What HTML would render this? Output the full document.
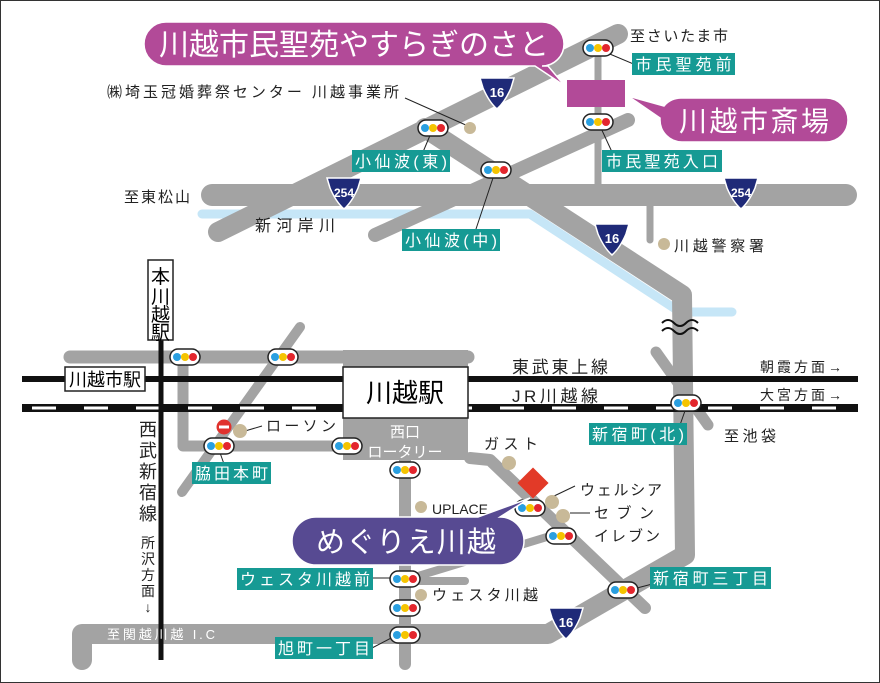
<!DOCTYPE html>
<html><head><meta charset="utf-8"><style>
html,body{margin:0;padding:0;background:#fff}
svg{display:block}
text{font-family:"Liberation Sans","Noto Sans CJK JP",sans-serif}
</style></head><body>
<svg width="880" height="683" viewBox="0 0 880 683" xmlns="http://www.w3.org/2000/svg">
<defs>
<g id="sig"><rect x="-15" y="-8" width="30" height="16" rx="8" fill="#fff" stroke="#222" stroke-width="1.5"/><circle cx="-8" cy="0" r="4" fill="#2a9fe0"/><circle cx="0" cy="0" r="4" fill="#f5c400"/><circle cx="8" cy="0" r="4" fill="#e3262d"/></g>
<g id="sh"><path d="M-17,-14 L17,-14 L14,-4 Q8,10 0,17 Q-8,10 -14,-4 Z" fill="#1f2a78" stroke="#fff" stroke-width="1.5"/></g>
</defs>
<rect x="0.5" y="0.5" width="879" height="682" fill="#fff" stroke="#333" stroke-width="1"/>
<polyline points="202,214 530,214 680,312 732,312" fill="none" stroke="#c6e6f7" stroke-width="9" stroke-linecap="round" stroke-linejoin="round"/>
<g fill="none" stroke="#a3a3a3" stroke-linecap="round" stroke-linejoin="round">
<line x1="618" y1="34" x2="218" y2="232" stroke-width="20"/>
<line x1="628" y1="120" x2="375" y2="235" stroke-width="14"/>
<line x1="598" y1="40" x2="598" y2="190" stroke-width="7"/>
<line x1="650" y1="195" x2="650" y2="240" stroke-width="7"/>
<polyline points="425,128 682,295 685,555 548,634 82,634 82,660" stroke-width="20"/>
<line x1="212" y1="195" x2="846" y2="195" stroke-width="22"/>
<polyline points="70,357 468,357" stroke-width="13"/>
<polyline points="183,357 183,446 345,446" stroke-width="11"/>
<line x1="300" y1="327" x2="182" y2="492" stroke-width="10"/>
<polyline points="470,458 490,460 645,608" stroke-width="12"/>
<line x1="405" y1="460" x2="405" y2="664" stroke-width="12"/>
<line x1="405" y1="580" x2="560" y2="533" stroke-width="8"/>
<line x1="405" y1="581" x2="465" y2="581" stroke-width="8"/>
<line x1="656" y1="352" x2="708" y2="425" stroke-width="11"/>
</g>
<rect x="343" y="350" width="125" height="110" fill="#a3a3a3"/>
<line x1="22" y1="379" x2="858" y2="379" stroke="#111" stroke-width="6"/>
<line x1="22" y1="408" x2="858" y2="408" stroke="#111" stroke-width="8"/>
<line x1="32" y1="408" x2="858" y2="408" stroke="#fff" stroke-width="3" stroke-dasharray="24 28"/>
<line x1="161" y1="340" x2="161" y2="660" stroke="#111" stroke-width="5"/>
<path d="M662,323 q6,-6 12,0 t12,0 t12,0 M662,331 q6,-6 12,0 t12,0 t12,0" fill="none" stroke="#111" stroke-width="2"/>
<rect x="148" y="260" width="25" height="80" fill="#fff" stroke="#222" stroke-width="1.5"/>
<text x="160.5" y="283" font-size="19" text-anchor="middle">本</text>
<text x="160.5" y="303" font-size="19" text-anchor="middle">川</text>
<text x="160.5" y="321" font-size="19" text-anchor="middle">越</text>
<text x="160.5" y="339" font-size="19" text-anchor="middle">駅</text>
<rect x="65" y="367" width="80" height="24" fill="#fff" stroke="#222" stroke-width="1.5"/>
<text x="105" y="386" font-size="18" text-anchor="middle">川越市駅</text>
<rect x="343" y="367" width="125" height="51" fill="#fff" stroke="#222" stroke-width="1.5"/>
<text x="405" y="402" font-size="26" text-anchor="middle">川越駅</text>
<text x="405" y="437" font-size="15" fill="#fff" text-anchor="middle">西口</text>
<text x="405" y="457" font-size="15" fill="#fff" text-anchor="middle">ロータリー</text>
<use href="#sh" x="497" y="92"/><text x="497" y="97" font-size="13" fill="#fff" text-anchor="middle" font-weight="bold">16</text>
<use href="#sh" x="612" y="238"/><text x="612" y="243" font-size="13" fill="#fff" text-anchor="middle" font-weight="bold">16</text>
<use href="#sh" x="566" y="622"/><text x="566" y="627" font-size="13" fill="#fff" text-anchor="middle" font-weight="bold">16</text>
<use href="#sh" x="344" y="192"/><text x="344" y="197" font-size="12" fill="#fff" text-anchor="middle" font-weight="bold">254</text>
<use href="#sh" x="741" y="192"/><text x="741" y="197" font-size="12" fill="#fff" text-anchor="middle" font-weight="bold">254</text>
<g stroke="#222" stroke-width="1" fill="none">
<line x1="405" y1="98" x2="468" y2="126"/>
<line x1="605" y1="52" x2="636" y2="65"/>
<line x1="600" y1="126" x2="612" y2="152"/>
<line x1="431" y1="133" x2="423" y2="152"/>
<line x1="494" y1="175" x2="475" y2="232"/>
<line x1="245" y1="431" x2="262" y2="426"/>
<line x1="219" y1="450" x2="224" y2="464"/>
<line x1="552" y1="497" x2="575" y2="486"/>
<line x1="570" y1="513" x2="590" y2="513"/>
<line x1="372" y1="578" x2="390" y2="578"/>
<line x1="372" y1="648" x2="395" y2="636"/>
<line x1="637" y1="588" x2="660" y2="582"/>
<line x1="686" y1="408" x2="680" y2="425"/>
</g>
<use href="#sig" x="598" y="48"/><use href="#sig" x="598" y="122"/><use href="#sig" x="433" y="128"/><use href="#sig" x="496" y="170"/>
<use href="#sig" x="185" y="357"/><use href="#sig" x="283" y="357"/><use href="#sig" x="219" y="446"/><use href="#sig" x="347" y="446"/>
<use href="#sig" x="405" y="470"/><use href="#sig" x="530" y="508"/><use href="#sig" x="561" y="536"/><use href="#sig" x="405" y="579"/>
<use href="#sig" x="405" y="608"/><use href="#sig" x="405" y="635"/><use href="#sig" x="623" y="590"/><use href="#sig" x="686" y="403"/>
<g fill="#c8b998">
<circle cx="470" cy="128" r="6"/><circle cx="664" cy="244" r="6"/><circle cx="240" cy="431" r="7"/><circle cx="421" cy="507" r="6"/>
<circle cx="509" cy="463" r="7"/><circle cx="552" cy="502" r="7"/><circle cx="563" cy="516" r="7"/><circle cx="421" cy="595" r="6"/>
</g>
<circle cx="224" cy="427" r="7.5" fill="#e0322d"/><rect x="219" y="425.5" width="10" height="3" fill="#fff"/>
<rect x="522" y="472" width="22" height="22" fill="#e23a28" transform="rotate(45 533 483)"/>
<g font-size="16" fill="#fff">
<rect x="632" y="53" width="103" height="22" fill="#169a94"/><text x="683.5" y="70" text-anchor="middle" textLength="96">市民聖苑前</text>
<rect x="602" y="150" width="120" height="22" fill="#169a94"/><text x="662" y="167" text-anchor="middle" textLength="112">市民聖苑入口</text>
<rect x="352" y="150" width="98" height="22" fill="#169a94"/><text x="401" y="167" text-anchor="middle" textLength="92">小仙波(東)</text>
<rect x="402" y="229" width="98" height="22" fill="#169a94"/><text x="451" y="246" text-anchor="middle" textLength="92">小仙波(中)</text>
<rect x="589" y="423" width="98" height="22" fill="#169a94"/><text x="638" y="440" text-anchor="middle" textLength="92">新宿町(北)</text>
<rect x="192" y="462" width="79" height="22" fill="#169a94"/><text x="231.5" y="479" text-anchor="middle" textLength="73">脇田本町</text>
<rect x="237" y="568" width="136" height="22" fill="#169a94"/><text x="305" y="585" text-anchor="middle" textLength="130">ウェスタ川越前</text>
<rect x="275" y="637" width="98" height="22" fill="#169a94"/><text x="324" y="654" text-anchor="middle" textLength="92">旭町一丁目</text>
<rect x="650" y="567" width="121" height="22" fill="#169a94"/><text x="710.5" y="584" text-anchor="middle" textLength="115">新宿町三丁目</text>
</g>
<g font-size="15" fill="#222">
<text x="630" y="41" textLength="98">至さいたま市</text>
<text x="107" y="97" textLength="292">㈱埼玉冠婚葬祭センター 川越事業所</text>
<text x="124" y="202" textLength="66">至東松山</text>
<text x="255" y="231" font-size="16" textLength="80">新河岸川</text>
<text x="674" y="251" textLength="90">川越警察署</text>
<text x="512" y="373" font-size="17" textLength="96">東武東上線</text>
<text x="512" y="402" font-size="17" textLength="86">JR川越線</text>
<text x="760" y="372" font-size="14" textLength="82">朝霞方面→</text>
<text x="760" y="400" font-size="14" textLength="82">大宮方面→</text>
<text x="724" y="441" textLength="52">至池袋</text>
<text x="266" y="431" textLength="70">ローソン</text>
<text x="484" y="449" textLength="54">ガスト</text>
<text x="580" y="495" textLength="82">ウェルシア</text>
<text x="594" y="518" textLength="60">セブン</text>
<text x="594" y="541" textLength="66">イレブン</text>
<text x="432" y="514" font-size="14" textLength="56">UPLACE</text>
<text x="432" y="600" textLength="106">ウェスタ川越</text>
<text x="107" y="639" font-size="13" fill="#fff" textLength="108">至関越川越 I.C</text>
</g>
<g font-size="18" fill="#222" text-anchor="middle">
<text x="148" y="436">西</text><text x="148" y="457">武</text><text x="148" y="478">新</text><text x="148" y="499">宿</text><text x="148" y="520">線</text>
</g>
<g font-size="14" fill="#222" text-anchor="middle">
<text x="148" y="548">所</text><text x="148" y="564">沢</text><text x="148" y="580">方</text><text x="148" y="596">面</text><text x="148" y="612">↓</text>
</g>
<path d="M166,22 H542 A22,22 0 0 1 542,66 H548 L565,86 L535,66 H166 A22,22 0 0 1 166,22 Z" fill="#b24a98" stroke="#fff" stroke-width="1.5"/>
<rect x="567" y="80" width="58" height="27" fill="#b24a98"/>
<text x="354" y="55" font-size="30" fill="#fff" text-anchor="middle" textLength="390">川越市民聖苑やすらぎのさと</text>
<path d="M682,98 H826 A22,22 0 0 1 826,142 H682 A22,22 0 0 1 660,120 V118 L628,96 L664,106 A22,22 0 0 1 682,98 Z" fill="#b24a98" stroke="#fff" stroke-width="1.5"/>
<text x="754" y="131" font-size="28" fill="#fff" text-anchor="middle" textLength="150">川越市斎場</text>
<path d="M316,517 H478 L530,498 L500,517 A24,24 0 0 1 500,565 H316 A24,24 0 0 1 316,517 Z" fill="#574a92" stroke="#fff" stroke-width="1.5"/>
<text x="406" y="552" font-size="29" fill="#fff" text-anchor="middle" textLength="180">めぐりえ川越</text>
</svg>
</body></html>
